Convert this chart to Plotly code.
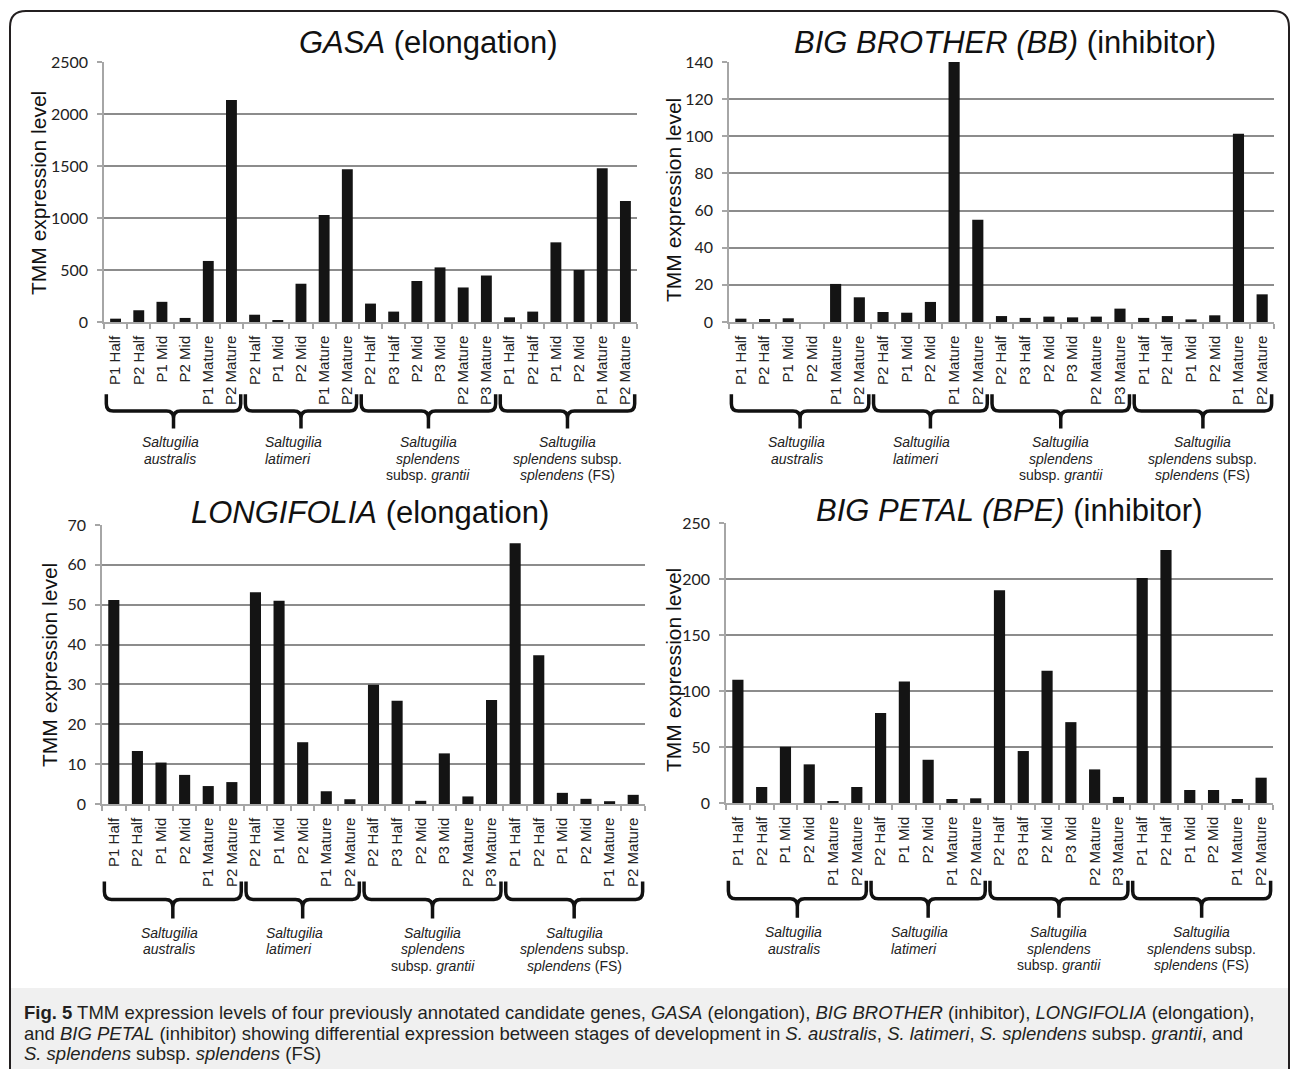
import plotly.graph_objects as go

# ---------------- data ----------------
stage_labels = ["P1 Half", "P2 Half", "P1 Mid", "P2 Mid", "P1 Mature", "P2 Mature",
                "P2 Half", "P1 Mid", "P2 Mid", "P1 Mature", "P2 Mature",
                "P2 Half", "P3 Half", "P2 Mid", "P3 Mid", "P2 Mature", "P3 Mature",
                "P1 Half", "P2 Half", "P1 Mid", "P2 Mid", "P1 Mature", "P2 Mature"]

species_lines = [
    ["<i>Saltugilia</i>", "<i>australis</i>"],
    ["<i>Saltugilia</i>", "<i>latimeri</i>"],
    ["<i>Saltugilia</i>", "<i>splendens</i>", "subsp. <i>grantii</i>"],
    ["<i>Saltugilia</i>", "<i>splendens</i> subsp.", "<i>splendens</i> (FS)"],
]
group_sizes = [6, 5, 6, 6]

gasa = [32, 113, 194, 39, 587, 2135,
        70, 16, 368, 1030, 1468,
        177, 100, 394, 525, 332, 447,
        45, 100, 766, 500, 1478, 1163]
big_brother = [1.8, 1.6, 2.0, 0, 20.5, 13.3,
               5.4, 5.0, 10.8, 140, 55.1,
               3.2, 2.2, 2.9, 2.5, 2.9, 7.2,
               2.2, 3.2, 1.4, 3.6, 101.4, 14.9]
longifolia = [51.2, 13.3, 10.4, 7.3, 4.5, 5.5,
              53.1, 51.0, 15.5, 3.2, 1.2,
              29.9, 25.9, 0.8, 12.7, 1.9, 26.1,
              65.4, 37.3, 2.8, 1.3, 0.7, 2.3]
big_petal = [110, 14.3, 50.2, 34.5, 1.2, 14.3,
             80.3, 108.5, 38.6, 3.6, 4.2,
             190, 46.4, 118, 72.2, 30, 5.4,
             201, 226, 11.6, 11.6, 3.6, 22.6]

panel_titles = ["<i>GASA</i> (elongation)",
                "<i>BIG BROTHER (BB)</i> (inhibitor)",
                "<i>LONGIFOLIA</i> (elongation)",
                "<i>BIG PETAL (BPE)</i> (inhibitor)"]
y_max = [2500, 140, 70, 250]
y_step = [500, 20, 10, 50]
y_title = "TMM expression level"

caption_lines = [
    "<b>Fig. 5</b> TMM expression levels of four previously annotated candidate genes, <i>GASA</i> (elongation), "
    "<i>BIG BROTHER</i> (inhibitor), <i>LONGIFOLIA</i> (elongation),",
    "and <i>BIG PETAL</i> (inhibitor) showing differential expression between stages of development in "
    "<i>S. australis</i>, <i>S. latimeri</i>, <i>S. splendens</i> subsp. <i>grantii</i>, and",
    "<i>S. splendens</i> subsp. <i>splendens</i> (FS)",
]

series = [gasa, big_brother, longifolia, big_petal]

# ---------------- layout geometry (page pixels) ----------------
W, H = 1293, 1069
def px(x):
    return x / W
def py(y):
    return 1 - y / H

# x0, x1, ytop, ybottom of each plot area
geom = [(104, 637, 62, 322), (729, 1274, 62, 322),
        (102, 645, 525, 804), (726, 1273, 523, 803)]
title_pos = [(428, 43), (1005, 43), (370, 512), (1009, 510)]
ytitle_pos = [(38, 193), (673, 200), (49, 665), (673, 670)]

FONT = "Liberation Sans, Arial, sans-serif"
TICKFONT = "Lato, Carlito, Liberation Sans, sans-serif"
n = len(stage_labels)
idx = list(range(n))

fig = go.Figure()
layout = dict(
    width=W, height=H, margin=dict(l=0, r=0, t=0, b=0),
    paper_bgcolor="white", plot_bgcolor="white", showlegend=False,
    bargap=0.5,
)
shapes = []
annotations = []

# caption background and frame
shapes.append(dict(type="rect", xref="paper", yref="paper",
                   x0=px(11), x1=px(1288), y0=py(1075), y1=py(988),
                   fillcolor="#f0f0f0", line=dict(width=0), layer="below"))
shapes.append(dict(type="path", xref="paper", yref="paper",
                   path=(f"M {px(10)},{py(1075)} L {px(10)},{py(27)} Q {px(10)},{py(11)} {px(26)},{py(11)} "
                         f"L {px(1273)},{py(11)} Q {px(1289)},{py(11)} {px(1289)},{py(27)} L {px(1289)},{py(1075)}"),
                   line=dict(color="#231f20", width=2)))

for p, vals in enumerate(series):
    s = "" if p == 0 else str(p + 1)
    gx0, gx1, gy0, gy1 = geom[p]
    dom_h = gy1 - gy0
    fig.add_trace(go.Bar(x=idx, y=vals, width=0.47, marker=dict(color="#141414", line=dict(width=0)),
                         xaxis="x" + s, yaxis="y" + s, hoverinfo="y"))
    layout["xaxis" + s] = dict(
        domain=[px(gx0), px(gx1)], anchor="y" + s, range=[-0.5, n - 0.5],
        tickmode="array", tickvals=idx, ticktext=stage_labels, tickangle=-90,
        ticks="", showline=True, linecolor="#a6a6a6", linewidth=1.5,
        showgrid=False, zeroline=False, automargin=False, fixedrange=True,
        ticklabelstandoff=6,
        tickfont=dict(family=FONT, size=15, color="#222"),
        minor=dict(ticks="outside", tickmode="linear", tick0=-0.5, dtick=1,
                   ticklen=5, tickcolor="#a6a6a6", tickwidth=1.5, showgrid=False),
    )
    layout["yaxis" + s] = dict(
        domain=[py(gy1), py(gy0)], anchor="x" + s, range=[0, y_max[p]],
        tickmode="linear", tick0=0, dtick=y_step[p],
        showgrid=True, gridcolor="#8c8c8c", gridwidth=1.5,
        showline=True, linecolor="#a6a6a6", linewidth=1.5,
        ticks="outside", ticklen=5, tickcolor="#a6a6a6", tickwidth=1.5,
        zeroline=False, automargin=False, fixedrange=True,
        ticklabelstandoff=6,
        tickfont=dict(family=TICKFONT, size=16, color="#222"),
    )
    # panel title
    tx, ty = title_pos[p]
    annotations.append(dict(text=panel_titles[p], xref="paper", yref="paper",
                            x=px(tx), y=py(ty), xanchor="center", yanchor="middle",
                            showarrow=False, font=dict(family=FONT, size=31, color="#111")))
    # y title
    ax_, ay_ = ytitle_pos[p]
    annotations.append(dict(text=y_title, xref="paper", yref="paper",
                            x=px(ax_), y=py(ay_), xanchor="center", yanchor="middle",
                            textangle=-90, showarrow=False,
                            font=dict(family=FONT, size=21, color="#111")))
    # braces + species labels
    xr = "x" + s + " domain" if s else "x domain"
    yr = "y" + s + " domain" if s else "y domain"
    start = 0
    yt, yh, ytip = -0.278, -0.342, -0.41
    rx, ry = 0.3 / n, 0.028
    for g, size in enumerate(group_sizes):
        end = start + size
        x0 = (start + 0.1) / n
        x1 = (end - 0.1) / n
        xm = (start + end) / 2 / n
        path = (f"M {x0},{yt} L {x0},{yh + ry} Q {x0},{yh} {x0 + rx},{yh} L {xm - rx},{yh} "
                f"Q {xm},{yh} {xm},{yh - ry} L {xm},{ytip} M {xm},{yh - ry} "
                f"Q {xm},{yh} {xm + rx},{yh} L {x1 - rx},{yh} Q {x1},{yh} {x1},{yh + ry} L {x1},{yt}")
        shapes.append(dict(type="path", xref=xr, yref=yr, path=path,
                           line=dict(color="#111", width=3.5)))
        for k, line in enumerate(species_lines[g]):
            if g == 1:
                lx, anchor = (start + 0.85) / n, "left"
            elif g == 0:
                lx, anchor = ((start + end) / 2 - 0.15) / n, "center"
            else:
                lx, anchor = (start + end) / 2 / n, "center"
            annotations.append(dict(text=line, xref=xr, yref=yr, x=lx,
                                    y=-0.462 - k * 16.5 / dom_h,
                                    xanchor=anchor, yanchor="middle", showarrow=False,
                                    font=dict(family=FONT, size=14, color="#222")))
        start = end

# caption
cap_y = [1012, 1033, 1053]
for line, yy in zip(caption_lines, cap_y):
    annotations.append(dict(text=line, xref="paper", yref="paper", x=px(22), y=py(yy),
                            xanchor="left", yanchor="middle", showarrow=False,
                            font=dict(family=FONT, size=18.5, color="#231f20")))

layout["shapes"] = shapes
layout["annotations"] = annotations
fig.update_layout(**layout)

fig.write_html("out.html", config={"displayModeBar": False},
               post_script="document.body.style.margin='0';document.body.style.overflow='hidden';")
